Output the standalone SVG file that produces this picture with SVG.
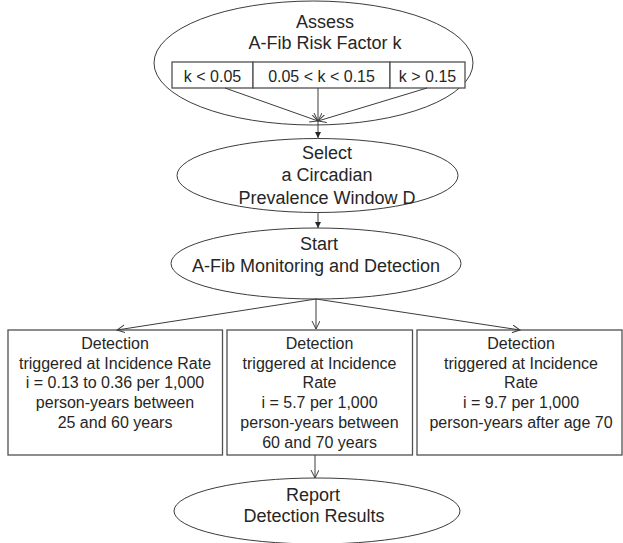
<svg xmlns="http://www.w3.org/2000/svg" width="623" height="543" viewBox="0 0 623 543">
<defs>
<style>
.ell{fill:#fff;stroke:#3c3c3c;stroke-width:1}
.box{fill:#fff;stroke:#505050;stroke-width:1.3}
.t18{font-family:"Liberation Sans",Arial,sans-serif;font-size:18px;fill:#262626;text-anchor:middle}
.t16{font-family:"Liberation Sans",Arial,sans-serif;font-size:16px;fill:#262626;text-anchor:middle}
.con{stroke:#3c3c3c;stroke-width:1;fill:none}
</style>
<marker id="open" markerUnits="userSpaceOnUse" markerWidth="10" markerHeight="10" refX="8" refY="4" orient="auto">
<path d="M0,0 L8,4 L0,8" fill="none" stroke="#3c3c3c" stroke-width="1"/>
</marker>
<marker id="fill" markerUnits="userSpaceOnUse" markerWidth="8" markerHeight="8" refX="6" refY="3" orient="auto">
<path d="M0,0 L6,3 L0,6 Z" fill="#262626"/>
</marker>
</defs>
<rect width="623" height="543" fill="#fff"/>

<g id="assess">
<ellipse class="ell" cx="313.5" cy="63" rx="159.5" ry="62"/>
<text class="t18" x="325" y="28">Assess</text>
<text class="t18" x="325" y="49">A-Fib Risk Factor k</text>
<g id="k-low">
<rect class="box" x="172" y="62" width="81" height="26"/>
<text class="t16" x="212.5" y="82">k &lt; 0.05</text>
</g>
<g id="k-mid">
<rect class="box" x="253" y="62" width="137" height="26"/>
<text class="t16" x="321.5" y="82">0.05 &lt; k &lt; 0.15</text>
</g>
<g id="k-high">
<rect class="box" x="390" y="62" width="75" height="26"/>
<text class="t16" x="427.5" y="82">k &gt; 0.15</text>
</g>
</g>

<g id="select">
<ellipse class="ell" cx="317.5" cy="175.5" rx="140.5" ry="37"/>
<text class="t18" x="327" y="158.5">Select</text>
<text class="t18" x="327" y="181">a Circadian</text>
<text class="t18" x="327" y="203.5">Prevalence Window D</text>
</g>

<g id="start">
<ellipse class="ell" cx="316" cy="263.5" rx="145" ry="35.5"/>
<text class="t18" x="319" y="249.5">Start</text>
<text class="t18" x="316" y="271.5">A-Fib Monitoring and Detection</text>
</g>

<g id="det-low">
<rect class="box" x="8" y="330" width="214.5" height="125"/>
<text class="t16" x="115" y="349">Detection</text>
<text class="t16" x="115" y="368.7">triggered at Incidence Rate</text>
<text class="t16" x="115" y="388.4">i = 0.13 to 0.36 per 1,000</text>
<text class="t16" x="115" y="408.1">person-years between</text>
<text class="t16" x="115" y="427.8">25 and 60 years</text>
</g>

<g id="det-mid">
<rect class="box" x="227" y="330" width="185.5" height="125"/>
<text class="t16" x="319.5" y="349">Detection</text>
<text class="t16" x="319.5" y="368.7">triggered at Incidence</text>
<text class="t16" x="319.5" y="388.4">Rate</text>
<text class="t16" x="319.5" y="408.1">i = 5.7 per 1,000</text>
<text class="t16" x="319.5" y="427.8">person-years between</text>
<text class="t16" x="319.5" y="447.5">60 and 70 years</text>
</g>

<g id="det-high">
<rect class="box" x="417" y="330" width="205" height="125"/>
<text class="t16" x="521" y="349">Detection</text>
<text class="t16" x="521" y="368.7">triggered at Incidence</text>
<text class="t16" x="521" y="388.4">Rate</text>
<text class="t16" x="521" y="408.1">i = 9.7 per 1,000</text>
<text class="t16" x="521" y="427.8">person-years after age 70</text>
</g>

<g id="report">
<ellipse class="ell" cx="317" cy="511" rx="143" ry="33"/>
<text class="t18" x="313" y="500.5">Report</text>
<text class="t18" x="314" y="521.5">Detection Results</text>
</g>

<g id="connectors">
<line class="con" x1="225" y1="88" x2="318" y2="121" marker-end="url(#open)"/>
<line class="con" x1="318" y1="88" x2="318" y2="121" marker-end="url(#open)"/>
<line class="con" x1="427" y1="88" x2="318" y2="121" marker-end="url(#open)"/>
<line class="con" x1="318" y1="121" x2="318" y2="138" marker-end="url(#fill)"/>
<line class="con" x1="318" y1="212.5" x2="318" y2="228" marker-end="url(#fill)"/>
<line class="con" x1="316" y1="299" x2="117" y2="330" marker-end="url(#open)"/>
<line class="con" x1="316" y1="299" x2="316" y2="329" marker-end="url(#open)"/>
<line class="con" x1="316" y1="299" x2="520" y2="330" marker-end="url(#open)"/>
<line class="con" x1="315" y1="455" x2="315" y2="478" marker-end="url(#open)"/>
</g>
</svg>
